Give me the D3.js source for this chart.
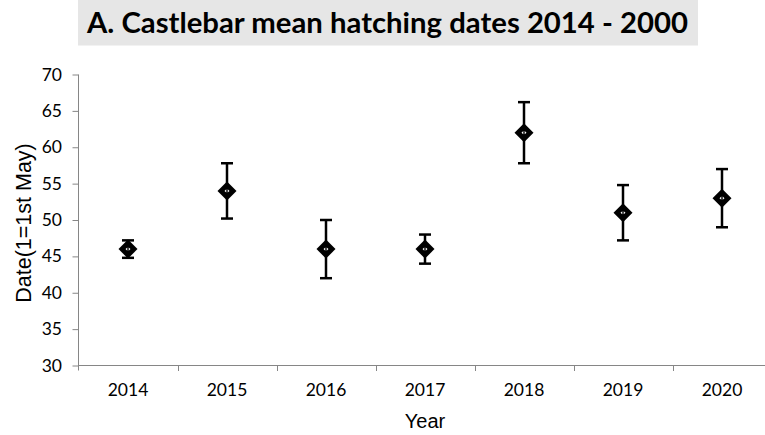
<!DOCTYPE html>
<html>
<head>
	<title>Castlebar mean hatching dates</title>
	<script src="https://d3js.org/d3.v7.min.js"></script>
	<style>
		body { margin: 0; background: #fff; }
		svg { display: block; }
	</style>
</head>
<body>
	<svg id="chart" width="765" height="435"></svg>

	<script type="text/javascript">
// data
var years = ['2014', '2015', '2016', '2017', '2018', '2019', '2020'];
var meanDates = [46, 54, 46, 46, 62, 51, 53];
var errors = [1.2, 3.8, 4, 2, 4.2, 3.8, 4];
var yTicks = [30, 35, 40, 45, 50, 55, 60, 65, 70];
var title = 'A. Castlebar mean hatching dates 2014 - 2000';

var svg = d3.select('#chart');
var axisColor = '#868686';

// scales
var x = d3.scaleBand().domain(years).range([78.5, 78.5 + 7 * 99]);
var y = d3.scaleLinear().domain([30, 70]).range([365.5, 74.5]);

// title box
svg.append('rect')
   .attr('x', 78).attr('y', 0)
   .attr('width', 620).attr('height', 45.5)
   .attr('fill', '#e6e6e6');
svg.append('text')
   .attr('x', 87).attr('y', 33)
   .attr('textLength', 601)
   .attr('lengthAdjust', 'spacingAndGlyphs')
   .style('font-family', 'Lato, "Open Sans", sans-serif')
   .style('font-weight', 'bold')
   .style('font-size', '28px')
   .attr('fill', '#000')
   .text(title);

// y axis
var yAxis = svg.append('g')
   .attr('transform', 'translate(78.5,0)')
   .call(d3.axisLeft(y).tickValues(yTicks).tickSize(6).tickPadding(10.5).tickSizeOuter(0));
yAxis.select('.domain').attr('stroke', axisColor).attr('d', 'M0,' + y(70) + 'V' + (y(30) + 5));
yAxis.selectAll('.tick line').attr('stroke', axisColor);
yAxis.selectAll('.tick text')
   .style('font-family', 'Lato, "Open Sans", sans-serif')
   .style('font-size', '17.5px')
   .attr('fill', '#000');

// x axis
var xAxis = svg.append('g')
   .attr('transform', 'translate(0,' + y(30) + ')')
   .call(d3.axisBottom(x).tickSize(0).tickPadding(18).tickSizeOuter(0));
xAxis.select('.domain').attr('stroke', axisColor).attr('d', 'M78.5,0H765');
xAxis.selectAll('.tick text')
   .style('font-family', 'Lato, "Open Sans", sans-serif')
   .style('font-size', '17.5px')
   .attr('fill', '#000');
// category boundary ticks
xAxis.selectAll('.bound')
   .data(years.slice(0, years.length - 1))
   .enter().append('line')
   .attr('class', 'bound')
   .attr('x1', function(d) { return Math.round(x(d) + x.bandwidth()) + 0.5; })
   .attr('x2', function(d) { return Math.round(x(d) + x.bandwidth()) + 0.5; })
   .attr('y1', 0).attr('y2', 5.5)
   .attr('stroke', axisColor);

// axis titles
svg.append('text')
   .attr('x', 425).attr('y', 428)
   .attr('text-anchor', 'middle')
   .style('font-family', '"Liberation Sans", Arial, sans-serif')
   .style('font-size', '20px')
   .text('Year');
svg.append('text')
   .attr('transform', 'translate(31,223) rotate(-90)')
   .attr('text-anchor', 'middle')
   .style('font-family', '"Liberation Sans", Arial, sans-serif')
   .style('font-size', '21.5px')
   .text('Date(1=1st May)');

// error bars and markers
var pts = years.map(function(d, i) {
    return { year: d, v: meanDates[i], e: errors[i] };
});
var g = svg.selectAll('.pt').data(pts).enter().append('g')
   .attr('class', 'pt')
   .attr('transform', function(d) { return 'translate(' + (x(d.year) + x.bandwidth() / 2) + ',0)'; });

g.append('line')
   .attr('x1', 0).attr('x2', 0)
   .attr('y1', function(d) { return y(d.v + d.e); })
   .attr('y2', function(d) { return y(d.v - d.e); })
   .attr('stroke', '#000').attr('stroke-width', 2.5);
g.append('line')
   .attr('x1', -6).attr('x2', 6)
   .attr('y1', function(d) { return y(d.v + d.e); })
   .attr('y2', function(d) { return y(d.v + d.e); })
   .attr('stroke', '#000').attr('stroke-width', 2.5);
g.append('line')
   .attr('x1', -6).attr('x2', 6)
   .attr('y1', function(d) { return y(d.v - d.e); })
   .attr('y2', function(d) { return y(d.v - d.e); })
   .attr('stroke', '#000').attr('stroke-width', 2.5);

g.append('path')
   .attr('transform', function(d) { return 'translate(0,' + y(d.v) + ')'; })
   .attr('d', 'M0,-9.5L9.5,0L0,9.5L-9.5,0Z')
   .attr('fill', '#000');
// little white arrows inside the marker
g.append('path')
   .attr('transform', function(d) { return 'translate(0,' + y(d.v) + ')'; })
   .attr('d', 'M-2.5,0L-0.7,-1.6L-0.7,1.6ZM2.5,0L0.7,-1.6L0.7,1.6Z')
   .attr('fill', '#fff');
</script>
</body>
</html>
